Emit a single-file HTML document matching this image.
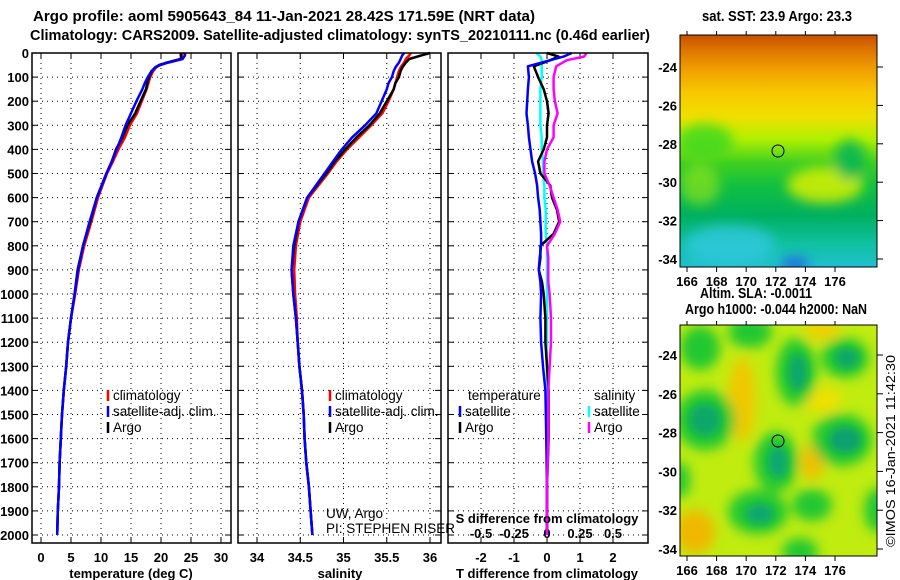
<!DOCTYPE html>
<html><head><meta charset="utf-8"><style>
html,body{margin:0;padding:0;background:#fff;}
svg{display:block;font-family:"Liberation Sans",sans-serif;}
.t{font-size:13px;font-weight:bold;fill:#000;}
.h{font-size:14.5px;font-weight:bold;fill:#000;}
.s{font-size:13.5px;fill:#000;}
</style></head><body>
<svg id="chart" width="900" height="580" viewBox="0 0 900 580" xmlns="http://www.w3.org/2000/svg">
<defs>
<linearGradient id="sstg" x1="0" y1="0" x2="0" y2="1">
<stop offset="0" stop-color="#c85000"/><stop offset="0.07" stop-color="#e07800"/>
<stop offset="0.15" stop-color="#f0a000"/><stop offset="0.25" stop-color="#f8c800"/>
<stop offset="0.35" stop-color="#f0e000"/><stop offset="0.45" stop-color="#b0f000"/>
<stop offset="0.55" stop-color="#40d020"/><stop offset="0.65" stop-color="#10c040"/>
<stop offset="0.78" stop-color="#00b060"/><stop offset="0.9" stop-color="#10c0a0"/>
<stop offset="1" stop-color="#20c0d0"/>
</linearGradient>
<filter id="bl" x="-50%" y="-50%" width="200%" height="200%"><feGaussianBlur stdDeviation="6"/></filter>
<filter id="bl2" x="-50%" y="-50%" width="200%" height="200%"><feGaussianBlur stdDeviation="4"/></filter>
<clipPath id="m1"><rect x="680" y="35" width="197" height="232"/></clipPath>
<clipPath id="m2"><rect x="680" y="325" width="197" height="231"/></clipPath>
</defs>
<text class="h" x="33" y="21" textLength="502" lengthAdjust="spacingAndGlyphs">Argo profile: aoml 5905643_84 11-Jan-2021 28.42S 171.59E (NRT data)</text>
<text class="h" x="30" y="40" textLength="620" lengthAdjust="spacingAndGlyphs">Climatology: CARS2009. Satellite-adjusted climatology: synTS_20210111.nc (0.46d earlier)</text>
<g id="panels"></g>
<g id="maps">
<text class="h" x="702" y="21" textLength="150" lengthAdjust="spacingAndGlyphs">sat. SST: 23.9 Argo: 23.3</text>
<g clip-path="url(#m1)">
<rect x="680" y="35" width="197" height="232" fill="url(#sstg)"/>
<g filter="url(#bl)">
<ellipse cx="705" cy="142" rx="28" ry="18" fill="#40d820" opacity="0.85"/>
<ellipse cx="700" cy="185" rx="20" ry="20" fill="#a0e818" opacity="0.6"/>
<ellipse cx="825" cy="185" rx="38" ry="18" fill="#d8f000" opacity="0.85"/>
<ellipse cx="850" cy="160" rx="16" ry="20" fill="#10b850" opacity="0.95"/>
<ellipse cx="730" cy="245" rx="45" ry="20" fill="#30c8e0" opacity="0.8"/>
<ellipse cx="795" cy="264" rx="14" ry="6" fill="#2060e0"/>
</g>
</g>
<rect x="680" y="35" width="197" height="232" fill="none" stroke="#000"/>
<circle cx="778" cy="151" r="6" fill="none" stroke="#000"/>
<text class="h" x="700" y="298" textLength="112" lengthAdjust="spacingAndGlyphs">Altim. SLA: -0.0011</text>
<text class="h" x="685" y="314" textLength="182" lengthAdjust="spacingAndGlyphs">Argo h1000: -0.044 h2000: NaN</text>
<g clip-path="url(#m2)">
<rect x="680" y="325" width="197" height="231" fill="#c0ec10"/>
<g filter="url(#bl)">
<ellipse cx="742" cy="400" rx="14" ry="42" fill="#f0c800"/>
<ellipse cx="695" cy="532" rx="20" ry="22" fill="#f0b800"/>
<ellipse cx="812" cy="462" rx="12" ry="18" fill="#f0c000"/>
<ellipse cx="822" cy="400" rx="20" ry="12" fill="#f0e000"/>
<ellipse cx="822" cy="330" rx="18" ry="10" fill="#f0d000"/>
<ellipse cx="700" cy="348" rx="20" ry="22" fill="#20c830"/>
<ellipse cx="750" cy="332" rx="22" ry="16" fill="#20c830"/>
<ellipse cx="705" cy="420" rx="30" ry="30" fill="#20c830"/>
<ellipse cx="776" cy="462" rx="22" ry="30" fill="#20c830"/>
<ellipse cx="758" cy="512" rx="30" ry="22" fill="#20c830"/>
<ellipse cx="796" cy="372" rx="20" ry="34" fill="#20c830"/>
<ellipse cx="842" cy="440" rx="30" ry="26" fill="#20c830"/>
<ellipse cx="845" cy="358" rx="24" ry="20" fill="#20c830"/>
<ellipse cx="812" cy="505" rx="20" ry="16" fill="#20c830"/>
<ellipse cx="800" cy="552" rx="18" ry="14" fill="#20c830"/>
<ellipse cx="878" cy="510" rx="14" ry="22" fill="#20c830"/>
<ellipse cx="680" cy="480" rx="10" ry="18" fill="#20c830"/>
</g>
<g filter="url(#bl2)">
<ellipse cx="705" cy="420" rx="16" ry="16" fill="#10a868"/>
<ellipse cx="778" cy="462" rx="10" ry="16" fill="#10a870"/>
<ellipse cx="760" cy="514" rx="14" ry="10" fill="#10a870"/>
<ellipse cx="845" cy="440" rx="16" ry="13" fill="#10a070"/>
<ellipse cx="798" cy="372" rx="10" ry="18" fill="#10a868"/>
<ellipse cx="847" cy="358" rx="12" ry="10" fill="#10a868"/>
</g>
</g>
<rect x="680" y="325" width="197" height="231" fill="none" stroke="#000"/>
<circle cx="778" cy="441" r="6" fill="none" stroke="#000"/>
<text x="0" y="0" font-size="13" transform="translate(895,547) rotate(-90)" textLength="192" lengthAdjust="spacingAndGlyphs">©IMOS 16-Jan-2021 11:42:30</text>
</g>
</svg>
<script>
// ---- data ----
var tDepths = [0,10,25,40,50,60,75,100,125,150,200,250,300,350,400,450,500,600,700,800,900,1000,1100,1200,1300,1400,1500,1600,1700,1800,1900,2000];
var climTemp = [23.6,23.5,23.2,21.0,19.8,19.2,18.7,18.2,17.9,17.6,16.8,16.0,14.8,14.0,12.9,12.0,11.0,9.5,8.4,7.2,6.3,5.7,5.0,4.5,4.2,3.8,3.5,3.3,3.1,3.0,2.8,2.7];
var satTemp  = [24.0,24.0,23.6,21.2,19.9,19.0,18.4,17.8,17.3,16.9,15.9,15.0,14.1,13.4,12.6,11.8,10.9,9.3,8.1,7.0,6.2,5.6,5.0,4.5,4.2,3.8,3.5,3.3,3.1,3.0,2.8,2.7];
var argoTemp = [23.3,23.3,23.4,21.0,19.7,19.0,18.5,18.0,17.7,17.5,16.6,15.7,14.4,13.6,12.5,11.8,10.9,9.3,8.2,7.0,6.1,5.6,5.0,4.5,4.2,3.8,3.5,3.3,3.1,3.0,2.8,2.7];
var climSal = [35.78,35.76,35.72,35.70,35.68,35.66,35.64,35.62,35.60,35.58,35.52,35.45,35.32,35.18,35.04,34.92,34.82,34.60,34.50,34.45,34.43,34.44,34.46,34.47,34.49,34.52,34.54,34.55,34.57,34.60,34.62,34.64];
var satSal  = [35.70,35.68,35.66,35.64,35.62,35.60,35.58,35.56,35.52,35.50,35.44,35.38,35.25,35.10,34.98,34.88,34.78,34.58,34.48,34.42,34.40,34.42,34.45,34.47,34.49,34.52,34.54,34.55,34.57,34.60,34.62,34.64];
var argoSal = [36.00,35.90,35.76,35.72,35.70,35.68,35.66,35.64,35.60,35.58,35.50,35.42,35.30,35.15,35.02,34.90,34.80,34.58,34.48,34.43,34.40,34.42,34.45,34.47,34.49,34.52,34.54,34.55,34.57,34.60,34.62,34.64];
var dDepths = [0,15,30,55,100,150,200,250,300,350,400,450,500,550,600,650,700,750,800,850,900,950,1000,1100,1200,1300,1400,1600,1800,2000];
var argoTDiff = [0,0.35,0.1,-0.4,-0.27,-0.1,0,0.05,0,0,-0.1,-0.27,-0.2,0.1,0.15,0.3,0.37,0.2,-0.2,-0.2,-0.25,-0.15,-0.1,-0.05,-0.05,0,0.05,0.05,0,0];
var satTDiff  = [0.75,0.5,0.1,-0.58,-0.55,-0.58,-0.6,-0.62,-0.58,-0.55,-0.5,-0.45,-0.36,-0.3,-0.27,-0.22,-0.2,-0.18,-0.18,-0.22,-0.25,-0.2,-0.18,-0.2,-0.18,-0.12,-0.05,-0.02,0,0];
var argoSDiff = [0.3,0.28,0.15,0.07,0.05,0.05,0.06,0.08,0.05,0.05,0,-0.02,-0.02,0.02,0.05,0.08,0.1,0.06,0,0.01,0.01,0.01,0.02,0.03,0.03,0.02,0.01,0.01,0,0];
var satSDiff  = [-0.08,-0.05,-0.04,-0.04,-0.04,-0.05,-0.05,-0.05,-0.05,-0.04,-0.04,-0.03,-0.03,-0.02,-0.02,-0.01,-0.01,-0.01,0,0,0,0,0,0,0,0,0,0,0,0];
var depthTicks = [0,100,200,300,400,500,600,700,800,900,1000,1100,1200,1300,1400,1500,1600,1700,1800,1900,2000];
var tTicks = [0,5,10,15,20,25,30];
var sTicks = [34,34.5,35,35.5,36];
var dTicks = [-2,-1,0,1,2];
var sDiffTicks = ["-0.5","-0.25","0","0.25","0.5"];
var mapLatTicks = [-24,-26,-28,-30,-32,-34];
var mapLonTicks = [166,168,170,172,174,176];
// ---- drawing ----
var NS="http://www.w3.org/2000/svg";
var root=document.getElementById('panels');
function el(tag,attrs,parent){var e=document.createElementNS(NS,tag);for(var k in attrs)e.setAttribute(k,attrs[k]);(parent||root).appendChild(e);return e;}
function yS(d){return 53+d*0.241;}
function xT(v){return 41+v*6;}
function xS(v){return 257+(v-34)*86.5;}
function xD(v){return 547+v*33;}
function xSD(v){return 547+v*132;}
var panels=[[32,231,'temperature-panel'],[238,441,'salinity-panel'],[448,648,'difference-panel']];
panels.forEach(function(p){
  var g=el('g',{});
  
  
  depthTicks.forEach(function(d){
    el('line',{x1:p[0],x2:p[1],y1:yS(d),y2:yS(d),stroke:'#000','stroke-dasharray':'1,4'},g);
    el('line',{x1:p[0],x2:p[0]+6,y1:yS(d),y2:yS(d),stroke:'#000'},g);
    el('line',{x1:p[1]-6,x2:p[1],y1:yS(d),y2:yS(d),stroke:'#000'},g);
  });
  p.push(g);
});
function vgrid(g,ticks,fx,labels){
  ticks.forEach(function(t,i){
    var x=fx(t);
    el('line',{x1:x,x2:x,y1:53,y2:543,stroke:'#000','stroke-dasharray':'1,4'},g);
    el('line',{x1:x,x2:x,y1:543,y2:537,stroke:'#000'},g);
    el('line',{x1:x,x2:x,y1:53,y2:59,stroke:'#000'},g);
    var tx=el('text',{x:x,y:562,'text-anchor':'middle','class':'t'},g);
    
    
    tx.textContent=labels?labels[i]:String(t);
  });
}
vgrid(panels[0][3],tTicks,xT);
vgrid(panels[1][3],sTicks,xS);
vgrid(panels[2][3],dTicks,xD,["-2","-1","0","1","2"]);
sDiffTicks.forEach(function(s,i){
  var tx=el('text',{x:481+i*33,y:538,'text-anchor':'middle','class':'t'});
  
  
  tx.textContent=s;
});
depthTicks.forEach(function(d){
  var tx=el('text',{x:29,y:yS(d)+5,'text-anchor':'end','class':'t'});
  
  
  tx.textContent=String(d);
});
function line(depths,vals,fx,color,name){
  var d='';
  vals.forEach(function(v,i){d+=(i?'L':'M')+fx(v).toFixed(1)+','+yS(depths[i]).toFixed(1);});
  var p=el('path',{d:d,fill:'none',stroke:color,'stroke-width':2.5,'stroke-linejoin':'round'});
  
  
}
line(tDepths,climTemp,xT,'#f00','clim-temp-line');
line(tDepths,argoTemp,xT,'#000','argo-temp-line');
line(tDepths,satTemp,xT,'#00f','sat-temp-line');
line(tDepths,climSal,xS,'#f00','clim-sal-line');
line(tDepths,argoSal,xS,'#000','argo-sal-line');
line(tDepths,satSal,xS,'#00f','sat-sal-line');
line(dDepths,satSDiff,xSD,'#0ff','sat-s-diff-line');
line(dDepths,argoTDiff,xD,'#000','argo-t-diff-line');
line(dDepths,satTDiff,xD,'#00f','sat-t-diff-line');
line(dDepths,argoSDiff,xSD,'#f0f','argo-s-diff-line');
panels.forEach(function(p){el('rect',{x:p[0],y:53,width:p[1]-p[0],height:490,fill:'none',stroke:'#000','stroke-width':1.5});});
function legend(x,y,color,text,name){
  el('line',{x1:x,x2:x,y1:y-10,y2:y+1,stroke:color,'stroke-width':2.5});
  var t=el('text',{x:x+5,y:y,'class':'s'});
  
  
  t.textContent=text;
}
legend(108,400,'#f00','climatology','legend-climatology');
legend(108,416,'#00f','satellite-adj. clim.','legend-satellite');
legend(108,432,'#000','Argo','legend-argo');
legend(330,400,'#f00','climatology','legend-climatology-2');
legend(330,416,'#00f','satellite-adj. clim.','legend-satellite-2');
legend(330,432,'#000','Argo','legend-argo-2');
var th=el('text',{x:468,y:400,'class':'s'});th.textContent='temperature';


var sh=el('text',{x:594,y:400,'class':'s'});sh.textContent='salinity';


legend(460,416,'#00f','satellite','legend-t-satellite');
legend(460,432,'#000','Argo','legend-t-argo');
legend(589,416,'#0ff','satellite','legend-s-satellite');
legend(589,432,'#f0f','Argo','legend-s-argo');
[['UW, Argo',326,518,'credit-uw'],['PI: STEPHEN RISER',326,533,'credit-pi']].forEach(function(c){
  var t=el('text',{x:c[1],y:c[2],'class':'s'});t.textContent=c[0];
  
  
});
var sdl=el('text',{x:547,y:523,'text-anchor':'middle','class':'t'});sdl.textContent='S difference from climatology';


[['temperature (deg C)',131,'x-axis-title-temperature'],['salinity',340,'x-axis-title-salinity'],['T difference from climatology',547,'x-axis-title-tdiff']].forEach(function(a){
  var t=el('text',{x:a[1],y:578,'text-anchor':'middle','class':'t'});t.textContent=a[0];
  
  
});
// map axes: latitude labels on left, ticks on right
var mg=document.getElementById('maps');
[[35,267,67,38.4,'sst'],[325,556,355,38.8,'sla']].forEach(function(m){
  mapLatTicks.forEach(function(l,i){
    var y=m[2]+i*m[3];
    el('line',{x1:877,x2:883,y1:y,y2:y,stroke:'#000'},mg);
    var t=el('text',{x:677,y:y+5,'text-anchor':'end','class':'t'},mg);t.textContent=String(l);
    
    
  });
  mapLonTicks.forEach(function(l,i){
    var x=687+i*29.6;
    el('line',{x1:x,x2:x,y1:m[1],y2:m[1]+5,stroke:'#000'},mg);
    el('line',{x1:x,x2:x,y1:m[0]-4,y2:m[0],stroke:'#000'},mg);
    var t=el('text',{x:x,y:m[1]+19,'text-anchor':'middle','class':'t'},mg);t.textContent=String(l);
    
    
  });
});
</script>
</body></html>
